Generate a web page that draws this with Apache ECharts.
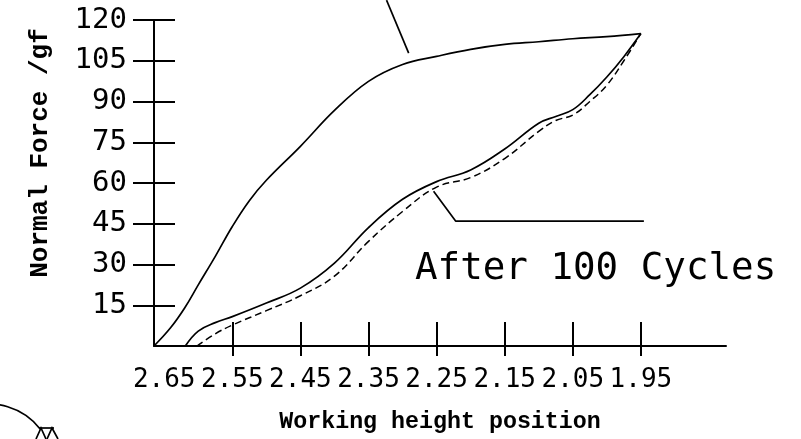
<!DOCTYPE html>
<html>
<head>
<meta charset="utf-8">
<script src="https://cdn.jsdelivr.net/npm/echarts@6/dist/echarts.min.js"></script>
<style>
  html, body { margin: 0; background: #fff; }
  #chart { width: 801px; height: 439px; }
</style>
</head>
<body>
<div id="chart"></div>
<script>
// tick values
const xLabelValues = [2.65, 2.55, 2.45, 2.35, 2.25, 2.15, 2.05, 1.95];
const xTickValues = [2.55, 2.45, 2.35, 2.25, 2.15, 2.05, 1.95];
const yTickValues = [15, 30, 45, 60, 75, 90, 105, 120];

// curves: [height position, force gf]
const loadCurve = [
  [2.665, 0], [2.641, 6.6], [2.62, 14], [2.60, 22.5], [2.575, 33],
  [2.55, 44], [2.525, 53.5], [2.50, 61], [2.45, 73.5], [2.40, 86.7],
  [2.35, 97.4], [2.30, 103.6], [2.25, 106.6], [2.20, 109.2], [2.15, 111],
  [2.10, 112], [2.05, 113.1], [2.00, 113.9], [1.95, 115]
];
const unloadCurve = [
  [2.619, 0], [2.60, 5.5], [2.575, 8.6], [2.55, 10.8], [2.50, 15.8],
  [2.45, 21.3], [2.40, 30.5], [2.35, 43.6], [2.30, 54], [2.25, 60.5],
  [2.20, 64.8], [2.15, 72.5], [2.10, 82], [2.075, 84.5], [2.05, 87],
  [2.025, 92.5], [2.00, 99], [1.975, 106.5], [1.95, 115]
];
const cycledCurve = [
  [2.602, 0], [2.575, 4.5], [2.55, 7.7], [2.50, 13], [2.45, 18.5],
  [2.40, 25.7], [2.35, 38.5], [2.30, 49.5], [2.25, 58.5], [2.20, 62],
  [2.15, 69], [2.10, 79], [2.075, 83], [2.05, 85], [2.025, 90],
  [2.00, 96], [1.975, 105], [1.95, 115]
];

// leader lines for the annotations
const leaderTop = [[2.3235, 127.3], [2.291, 107.8]];
const leaderCycles = [[2.2544, 57.0], [2.2221, 46.0], [1.9456, 46.0]];

const labelFont = '"DejaVu Sans Mono", monospace';
const nameFont = '"Liberation Mono", "DejaVu Sans Mono", monospace';

const myChart = echarts.init(document.getElementById('chart'));

const xBase = {
  type: 'value',
  inverse: true,
  min: 1.825,
  max: 2.665,
  splitLine: { show: false },
};
const yBase = {
  type: 'value',
  min: 0,
  max: 120,
  interval: 15,
  splitLine: { show: false },
};

myChart.setOption({
  animation: false,
  grid: { left: 154, right: 75, top: 20, bottom: 93 },
  xAxis: [
    Object.assign({}, xBase, {
      position: 'bottom',
      name: 'Working height position',
      nameLocation: 'middle',
      nameGap: 65,
      nameTextStyle: { color: '#000', fontFamily: nameFont, fontWeight: 'bold', fontSize: 23.3 },
      axisLine: { onZero: false, lineStyle: { color: '#000', width: 2 } },
      axisTick: { inside: false, length: 10, lineStyle: { color: '#000', width: 2 }, customValues: xTickValues },
      axisLabel: {
        color: '#000', fontFamily: labelFont, fontSize: 26, margin: 21,
        customValues: xLabelValues,
        formatter: (v) => v.toFixed(2)
      }
    }),
    Object.assign({}, xBase, {
      position: 'bottom',
      axisLine: { show: false },
      axisTick: { inside: true, length: 24, lineStyle: { color: '#000', width: 2 }, customValues: xTickValues },
      axisLabel: { show: false }
    })
  ],
  yAxis: [
    Object.assign({}, yBase, {
      position: 'left',
      name: 'Normal Force /gf',
      nameLocation: 'middle',
      nameRotate: 90,
      nameGap: 101,
      nameTextStyle: {
        color: '#000', fontFamily: nameFont, fontWeight: 'bold', fontSize: 26,
        padding: [0, 0, 0, 60]
      },
      axisLine: { onZero: false, lineStyle: { color: '#000', width: 2 } },
      axisTick: { inside: false, length: 21, lineStyle: { color: '#000', width: 2 }, customValues: yTickValues },
      axisLabel: { color: '#000', fontFamily: labelFont, fontSize: 29, margin: 27, customValues: yTickValues }
    }),
    Object.assign({}, yBase, {
      position: 'left',
      axisLine: { show: false },
      axisTick: { inside: true, length: 21, lineStyle: { color: '#000', width: 2 }, customValues: yTickValues },
      axisLabel: { show: false }
    })
  ],
  series: [
    {
      type: 'line', data: loadCurve, smooth: 0.4, symbol: 'none',
      lineStyle: { color: '#000', width: 1.7 }
    },
    {
      type: 'line', data: unloadCurve, smooth: 0.4, symbol: 'none',
      lineStyle: { color: '#000', width: 1.7 }
    },
    {
      type: 'line', data: cycledCurve, smooth: 0.4, symbol: 'none',
      lineStyle: { color: '#000', width: 1.5, type: [7, 4] }
    },
    {
      type: 'line', data: leaderTop, clip: false, symbol: 'none', silent: true,
      lineStyle: { color: '#000', width: 1.7 }
    },
    {
      type: 'line', data: leaderCycles, clip: false, symbol: 'none', silent: true,
      lineStyle: { color: '#000', width: 1.7 }
    }
  ],
  graphic: [
    {
      type: 'text', x: 415, y: 269,
      style: {
        text: 'After 100 Cycles', fill: '#000', verticalAlign: 'middle',
        font: '37.5px "DejaVu Sans Mono", monospace'
      }
    },
    {
      type: 'arc',
      shape: { cx: -11, cy: 469, r: 65, startAngle: -1.9, endAngle: -0.66 },
      style: { stroke: '#000', lineWidth: 1.7, fill: null }
    },
    {
      type: 'polyline',
      shape: { points: [[36, 439], [41, 428], [46, 439]] },
      style: { stroke: '#000', lineWidth: 1.7, fill: null }
    },
    {
      type: 'polyline',
      shape: { points: [[47, 439], [52, 428], [58, 439]] },
      style: { stroke: '#000', lineWidth: 1.7, fill: null }
    },
    {
      type: 'line',
      shape: { x1: 39, y1: 428, x2: 54, y2: 428 },
      style: { stroke: '#000', lineWidth: 1.7 }
    }
  ]
});
</script>
</body>
</html>
